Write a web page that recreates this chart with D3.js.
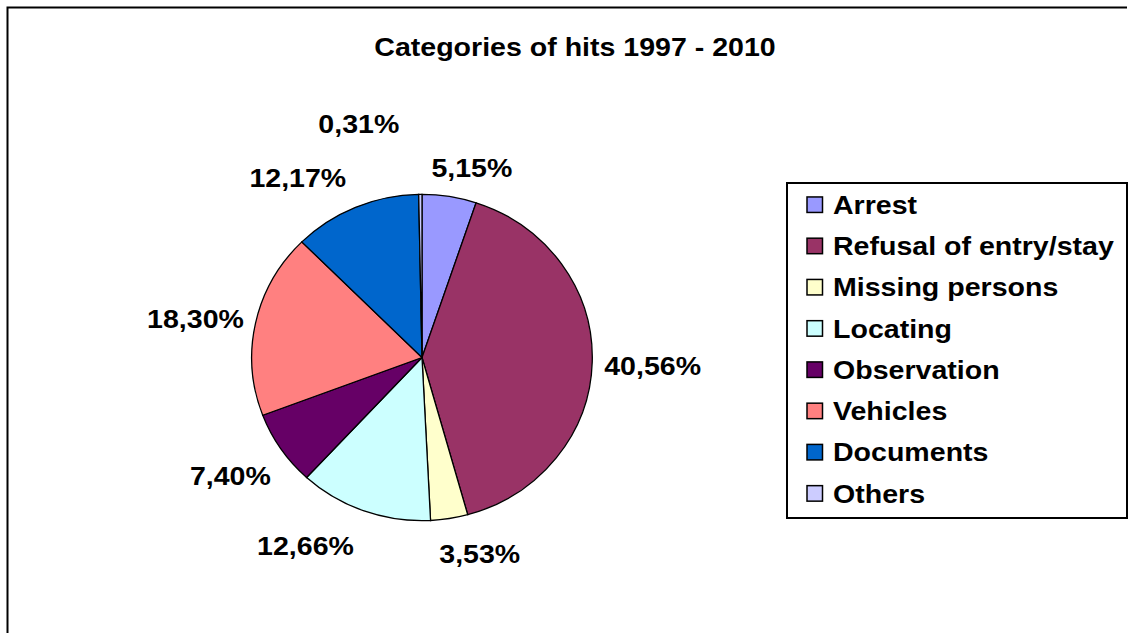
<!DOCTYPE html>
<meta charset="utf-8">
<script src="https://d3js.org/d3.v7.min.js"></script>
<style>
    body { margin: 0; background: #fff; }
    text { font-family: "Liberation Sans", Arial, sans-serif; font-weight: bold; fill: #000; }
</style>
<div id="chart"></div>
<script>
    // data (percent of hits)
    var categories = ["Arrest", "Refusal of entry/stay", "Missing persons", "Locating",
        "Observation", "Vehicles", "Documents", "Others"];
    var shares = [5.15, 40.56, 3.53, 12.66, 7.40, 18.30, 12.17, 0.31];
    var labels = ["5,15%", "40,56%", "3,53%", "12,66%", "7,40%", "18,30%", "12,17%", "0,31%"];
    var colors = ["#9999FF", "#993366", "#FFFFCC", "#CCFFFF", "#660066", "#FF8080", "#0066CC", "#CCCCFF"];

    // excel moves some labels to keep them clear of each other
    var labelNudge = [[14, 8], [0, 3], [22, -1], [-38, 0], [-7, 6], [-1, 4], [-34, 5], [-61, -33]];

    var width = 1131, height = 633;
    var fontSize = 25.5, stretch = 1.12;   // text in the picture is a bit wider than Arial

    var svg = d3.select("#chart").append("svg")
        .attr("width", width)
        .attr("height", height);

    // frame round the chart area (cut at right and bottom)
    svg.append("path")
        .attr("d", "M7.5," + (height + 10) + "V7.5H1127")
        .attr("fill", "none")
        .attr("stroke", "#000")
        .attr("stroke-width", 2);

    function addText(sel, x, y, str, anchor) {
        return sel.append("text")
            .attr("transform", "translate(" + x + "," + y + ") scale(" + stretch + ",1)")
            .attr("text-anchor", anchor || "middle")
            .style("font-size", fontSize + "px")
            .text(str);
    }

    // title
    addText(svg, 575, 56, "Categories of hits 1997 - 2010");

    // ---------- pie ----------
    var cx = 422, cy = 357.5, rx = 170.3, ry = 163.2;

    var pie = d3.pie().sort(null).value(function (d) { return d; });
    var arcs = pie(shares);
    var arc = d3.arc().innerRadius(0).outerRadius(rx);

    svg.append("g")
        .attr("transform", "translate(" + cx + "," + cy + ") scale(1," + (ry / rx) + ")")
        .selectAll("path")
        .data(arcs)
        .enter()
        .append("path")
        .attr("d", arc)
        .attr("fill", function (d, i) { return colors[i]; })
        .attr("stroke", "#000")
        .attr("stroke-width", 1.3)
        .attr("vector-effect", "non-scaling-stroke");

    // labels outside the pie
    var lrx = rx + 12, lry = ry + 24, capHalf = fontSize * 0.716 / 2;
    var gLab = svg.append("g");
    arcs.forEach(function (d, i) {
        var a = (d.startAngle + d.endAngle) / 2;
        var sx = Math.sin(a), sy = -Math.cos(a);
        var t = addText(gLab, 0, 0, labels[i]);
        var w = t.node().getComputedTextLength() * stretch;
        var x = cx + sx * lrx + sx * w / 2 + labelNudge[i][0];
        var y = cy + sy * lry + sy * 13 + labelNudge[i][1];
        t.attr("transform", "translate(" + x + "," + (y + capHalf) + ") scale(" + stretch + ",1)");
    });

    // ---------- legend ----------
    var legend = svg.append("g");
    legend.append("rect")
        .attr("x", 787).attr("y", 183)
        .attr("width", 340).attr("height", 335)
        .attr("fill", "#fff")
        .attr("stroke", "#000")
        .attr("stroke-width", 2);

    var ly = d3.scalePoint().domain(categories).range([204.7, 493.4]);
    var box = 15.5;

    legend.selectAll("rect.sw")
        .data(categories)
        .enter()
        .append("rect")
        .attr("class", "sw")
        .attr("x", 807)
        .attr("y", function (d) { return ly(d) - box / 2; })
        .attr("width", box).attr("height", box)
        .attr("fill", function (d, i) { return colors[i]; })
        .attr("stroke", "#000")
        .attr("stroke-width", 1.5);

    categories.forEach(function (c) {
        addText(legend, 833, ly(c) + capHalf, c, "start");
    });
</script>
